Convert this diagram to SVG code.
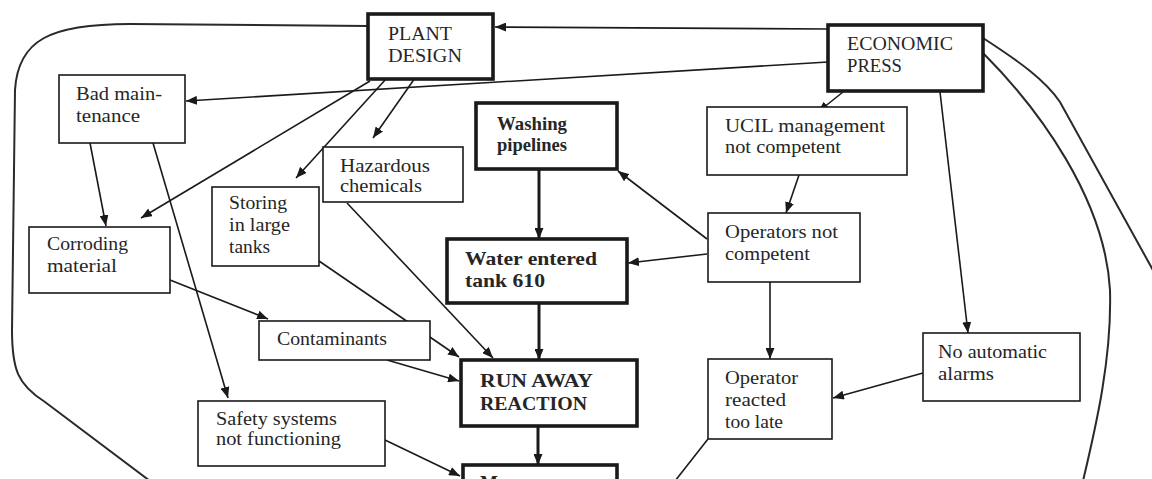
<svg xmlns="http://www.w3.org/2000/svg" width="1152" height="479" viewBox="0 0 1152 479">
<defs>
<style>
.box{fill:#fff;stroke:#1a1a1a;stroke-width:1.6}
.thick{stroke-width:3.6}
.c{fill:none;stroke:#1a1a1a;stroke-width:1.6}
.cw{stroke-width:3}
.loop{fill:none;stroke:#2a2a2a;stroke-width:2}
.t{font-family:"Liberation Serif","Times New Roman",serif;font-size:19px;fill:#262626}
.b{font-weight:bold}
</style>
<marker id="ah" markerUnits="userSpaceOnUse" markerWidth="11" markerHeight="9" refX="11" refY="4.5" orient="auto">
<path d="M0,0 L11,4.5 L0,9 z" fill="#1a1a1a"/>
</marker>
</defs>
<rect width="1152" height="479" fill="#fff"/>
<g id="connectors">
<path class="loop" d="M368,26 L130,24 C50,24 18,40 15,90 L12,330 C12,370 18,385 45,402 L150,481"/>
<path class="loop" d="M983,38 C1020,62 1045,80 1060,102 L1154,272"/>
<path class="loop" d="M983,53 C1040,110 1105,200 1110,290 C1112,360 1095,430 1083,481"/>
<line class="c" x1="828" y1="29" x2="495" y2="27" marker-end="url(#ah)"/>
<line class="c" x1="828" y1="62" x2="186" y2="101" marker-end="url(#ah)"/>
<line class="c" x1="370" y1="81" x2="141" y2="218" marker-end="url(#ah)"/>
<line class="c" x1="386" y1="79" x2="296" y2="178" marker-end="url(#ah)"/>
<line class="c" x1="415" y1="78" x2="373" y2="138" marker-end="url(#ah)"/>
<line class="c" x1="90" y1="143" x2="106" y2="226" marker-end="url(#ah)"/>
<line class="c" x1="153" y1="143" x2="228" y2="398" marker-end="url(#ah)"/>
<line class="c" x1="170" y1="280" x2="268" y2="319" marker-end="url(#ah)"/>
<line class="c" x1="319" y1="261" x2="459" y2="357" marker-end="url(#ah)"/>
<line class="c" x1="347" y1="203" x2="493" y2="358" marker-end="url(#ah)"/>
<line class="c" x1="387" y1="360" x2="459" y2="381" marker-end="url(#ah)"/>
<line class="c cw" x1="539" y1="169" x2="539" y2="239" marker-end="url(#ah)"/>
<line class="c cw" x1="539" y1="303" x2="539" y2="360" marker-end="url(#ah)"/>
<line class="c cw" x1="538" y1="426" x2="538" y2="465" marker-end="url(#ah)"/>
<line class="c" x1="385" y1="440" x2="460" y2="476" marker-end="url(#ah)"/>
<line class="c" x1="707" y1="239" x2="618" y2="171" marker-end="url(#ah)"/>
<line class="c" x1="707" y1="254" x2="628" y2="263" marker-end="url(#ah)"/>
<line class="c" x1="799" y1="175" x2="786" y2="213" marker-end="url(#ah)"/>
<line class="c" x1="843" y1="92" x2="818" y2="112" marker-end="url(#ah)"/>
<line class="c" x1="940" y1="92" x2="968" y2="333" marker-end="url(#ah)"/>
<line class="c" x1="923" y1="373" x2="833" y2="398" marker-end="url(#ah)"/>
<line class="c" x1="770" y1="282" x2="770" y2="359" marker-end="url(#ah)"/>
<line class="c" x1="708" y1="439" x2="675" y2="481"/>
</g>
<g id="plant-design">
<rect class="box thick" x="368" y="14" width="125" height="65"/>
<text class="t" x="388" y="40" textLength="64" lengthAdjust="spacingAndGlyphs">PLANT</text>
<text class="t" x="388" y="62" textLength="74" lengthAdjust="spacingAndGlyphs">DESIGN</text>
</g>
<g id="economic-press">
<rect class="box thick" x="828" y="25" width="155" height="66"/>
<text class="t" x="847" y="50" textLength="106" lengthAdjust="spacingAndGlyphs">ECONOMIC</text>
<text class="t" x="847" y="72" textLength="55" lengthAdjust="spacingAndGlyphs">PRESS</text>
</g>
<g id="bad-maintenance">
<rect class="box" x="59" y="75" width="126" height="68"/>
<text class="t" x="76" y="100" textLength="86" lengthAdjust="spacingAndGlyphs">Bad main-</text>
<text class="t" x="76" y="122" textLength="64" lengthAdjust="spacingAndGlyphs">tenance</text>
</g>
<g id="corroding-material">
<rect class="box" x="29" y="227" width="141" height="66"/>
<text class="t" x="47" y="250" textLength="81" lengthAdjust="spacingAndGlyphs">Corroding</text>
<text class="t" x="47" y="272" textLength="70" lengthAdjust="spacingAndGlyphs">material</text>
</g>
<g id="storing">
<rect class="box" x="212" y="187" width="107" height="79"/>
<text class="t" x="229" y="209" textLength="58" lengthAdjust="spacingAndGlyphs">Storing</text>
<text class="t" x="229" y="231" textLength="61" lengthAdjust="spacingAndGlyphs">in large</text>
<text class="t" x="229" y="253" textLength="41" lengthAdjust="spacingAndGlyphs">tanks</text>
</g>
<g id="hazardous-chemicals">
<rect class="box" x="323" y="147" width="140" height="55"/>
<text class="t" x="340" y="172" textLength="90" lengthAdjust="spacingAndGlyphs">Hazardous</text>
<text class="t" x="340" y="192" textLength="82" lengthAdjust="spacingAndGlyphs">chemicals</text>
</g>
<g id="contaminants">
<rect class="box" x="259" y="321" width="171" height="39"/>
<text class="t" x="277" y="345" textLength="110" lengthAdjust="spacingAndGlyphs">Contaminants</text>
</g>
<g id="safety-systems">
<rect class="box" x="198" y="401" width="187" height="65"/>
<text class="t" x="216" y="425" textLength="121" lengthAdjust="spacingAndGlyphs">Safety systems</text>
<text class="t" x="216" y="445" textLength="125" lengthAdjust="spacingAndGlyphs">not functioning</text>
</g>
<g id="washing-pipelines">
<rect class="box thick" x="476" y="103" width="141" height="66"/>
<text class="t b" x="497" y="130" textLength="70" lengthAdjust="spacingAndGlyphs">Washing</text>
<text class="t b" x="497" y="151" textLength="70" lengthAdjust="spacingAndGlyphs">pipelines</text>
</g>
<g id="water-entered">
<rect class="box thick" x="447" y="239" width="180" height="64"/>
<text class="t b" x="465" y="265" textLength="132" lengthAdjust="spacingAndGlyphs">Water entered</text>
<text class="t b" x="465" y="287" textLength="80" lengthAdjust="spacingAndGlyphs">tank  610</text>
</g>
<g id="run-away-reaction">
<rect class="box thick" x="461" y="360" width="176" height="66"/>
<text class="t b" x="480" y="387" textLength="113" lengthAdjust="spacingAndGlyphs">RUN AWAY</text>
<text class="t b" x="480" y="410" textLength="107" lengthAdjust="spacingAndGlyphs">REACTION</text>
</g>
<g id="bottom-node">
<rect class="box thick" x="463" y="465" width="154" height="40"/>
<text class="t b" x="480" y="489">M</text>
</g>
<g id="ucil-management">
<rect class="box" x="707" y="107" width="200" height="68"/>
<text class="t" x="725" y="132" textLength="160" lengthAdjust="spacingAndGlyphs">UCIL management</text>
<text class="t" x="725" y="153" textLength="116" lengthAdjust="spacingAndGlyphs">not competent</text>
</g>
<g id="operators-not-competent">
<rect class="box" x="708" y="213" width="152" height="69"/>
<text class="t" x="725" y="238" textLength="113" lengthAdjust="spacingAndGlyphs">Operators not</text>
<text class="t" x="725" y="260" textLength="85" lengthAdjust="spacingAndGlyphs">competent</text>
</g>
<g id="operator-reacted">
<rect class="box" x="708" y="359" width="124" height="80"/>
<text class="t" x="725" y="384" textLength="73" lengthAdjust="spacingAndGlyphs">Operator</text>
<text class="t" x="725" y="406" textLength="61" lengthAdjust="spacingAndGlyphs">reacted</text>
<text class="t" x="725" y="428" textLength="58" lengthAdjust="spacingAndGlyphs">too late</text>
</g>
<g id="no-automatic-alarms">
<rect class="box" x="923" y="333" width="157" height="68"/>
<text class="t" x="938" y="358" textLength="109" lengthAdjust="spacingAndGlyphs">No automatic</text>
<text class="t" x="938" y="380" textLength="56" lengthAdjust="spacingAndGlyphs">alarms</text>
</g>
</svg>
